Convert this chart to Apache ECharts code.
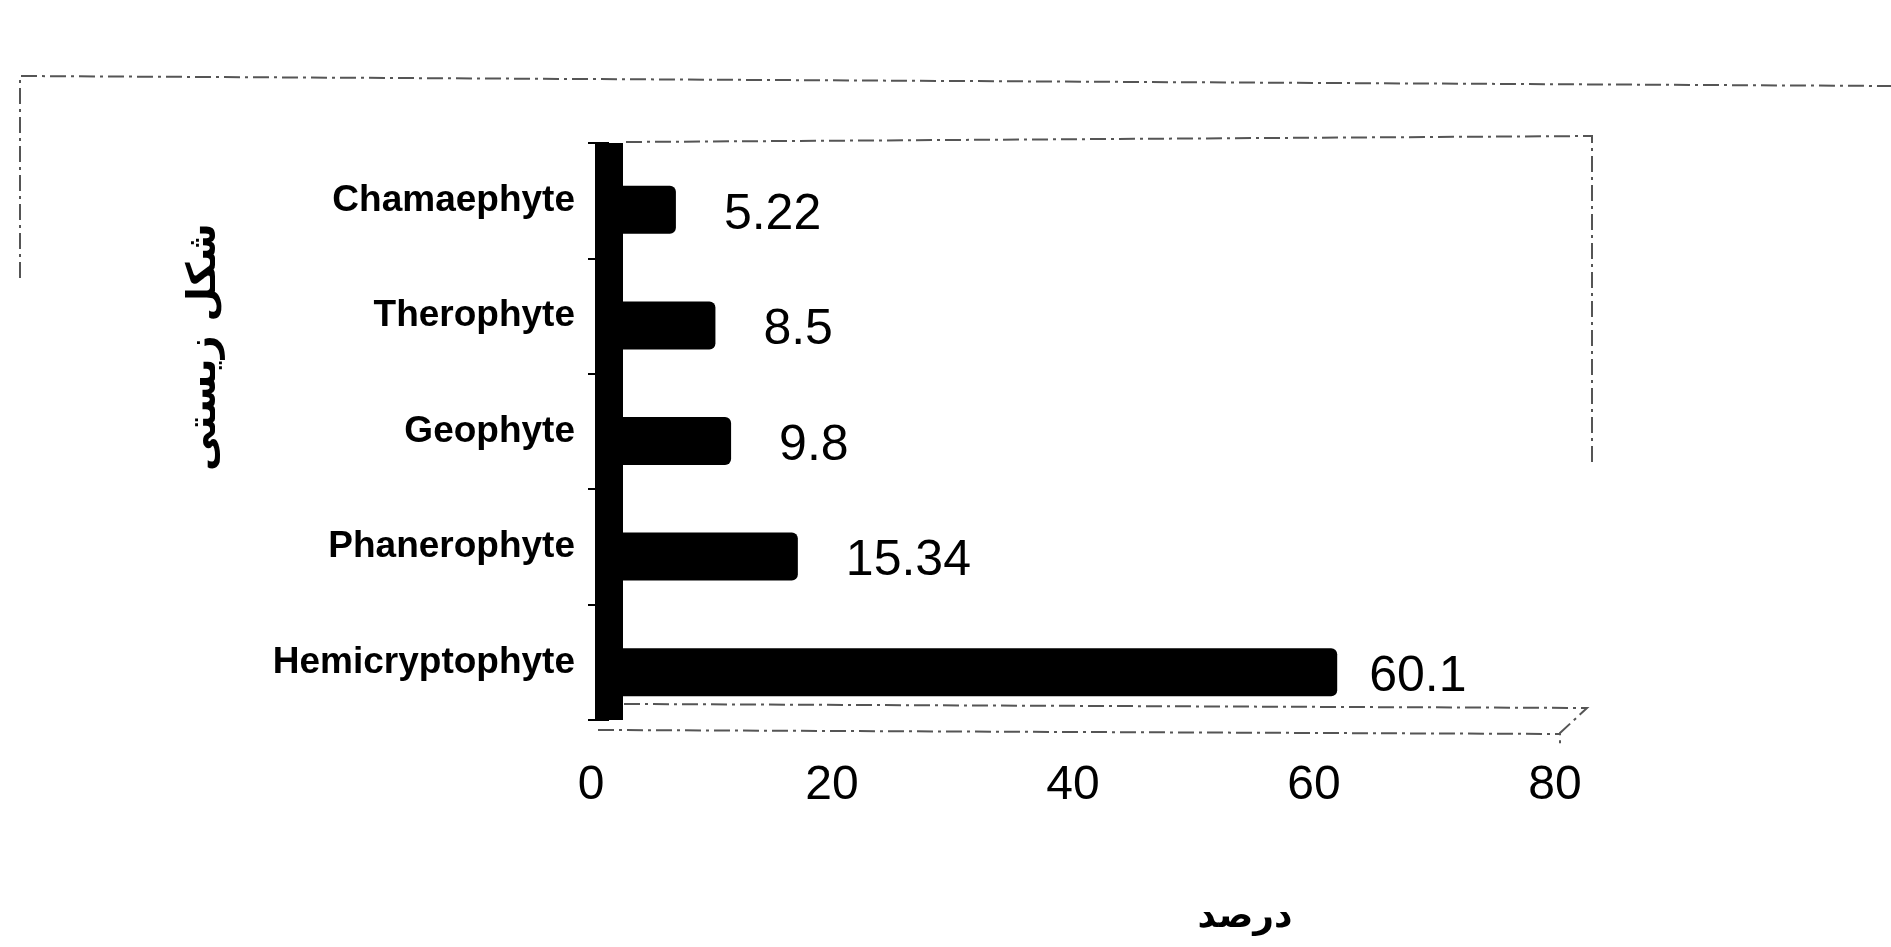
<!DOCTYPE html>
<html>
<head>
<meta charset="utf-8">
<title>life form</title>
<script src="https://cdn.jsdelivr.net/npm/echarts@6/dist/echarts.min.js"></script>
<style>
html,body{margin:0;padding:0;background:#fff}
#main{width:1891px;height:947px}
</style>
</head>
<body>
<div id="main"></div>
<script>
// categories top -> bottom
var lifeForms=["Chamaephyte","Therophyte","Geophyte","Phanerophyte","Hemicryptophyte"]
var percents=[5.22,8.5,9.8,15.34,60.1]
var xTicks=[0,20,40,60,80]
var xName="درصد"
var yName="شکل زیستی"

var mychart=echarts.init(document.getElementById('main'))

var barData=[]
for(var i=0;i<percents.length;i++){
    var d={value:percents[i]}
    if(percents[i]>50){
        d.label={distance:32}
    }
    barData.push(d)
}

// dashed frame lines of the scan
var dash={stroke:'#555',lineWidth:2,lineDash:[16,5,3,5],fill:null}
function frame(points){
    return {type:'polyline',silent:true,shape:{points:points},style:dash}
}

var option={
    backgroundColor:'#fff',
    animation:false,
    grid:[
        {left:591,top:143,width:964,height:577},   // front axes
        {left:613,top:152,width:964,height:578}    // bars (3d depth shift)
    ],
    xAxis:[
        {
            gridIndex:0,type:'value',
            min:xTicks[0],max:xTicks[xTicks.length-1],interval:20,
            axisLine:{show:false},axisTick:{show:false},splitLine:{show:false},
            axisLabel:{margin:42,color:'#000',fontSize:48,fontFamily:'Liberation Sans, Arial'}
        },
        {
            gridIndex:1,type:'value',
            min:xTicks[0],max:xTicks[xTicks.length-1],
            show:false
        }
    ],
    yAxis:[
        {
            gridIndex:0,type:'category',inverse:true,data:lifeForms,
            offset:-18,
            axisLine:{show:true,lineStyle:{color:'#000',width:28,cap:'butt'}},
            axisTick:{show:true,length:21,lineStyle:{color:'#000',width:2}},
            axisLabel:{margin:34,color:'#000',fontSize:37,fontWeight:'bold',fontFamily:'Liberation Sans, Arial'}
        },
        {
            gridIndex:1,type:'category',inverse:true,data:lifeForms,
            show:false
        }
    ],
    series:[{
        type:'bar',
        xAxisIndex:1,yAxisIndex:1,
        data:barData,
        barWidth:48,
        itemStyle:{color:'#000',borderRadius:[0,6,6,0]},
        label:{
            show:true,position:'right',distance:48,offset:[0,5],
            color:'#000',fontSize:50,fontFamily:'Liberation Sans, Arial'
        }
    }],
    graphic:[
        frame([[20,278],[20,76],[1891,86]]),
        frame([[626,142],[1592,136],[1592,465]]),
        frame([[624,704],[1587,708],[1560,733],[1560,746]]),
        frame([[598,730],[1560,734]]),
        {
            type:'text',silent:true,
            x:1245,y:918,
            style:{text:xName,fill:'#000',font:'bold 36px "DejaVu Sans"',align:'center',verticalAlign:'middle'}
        },
        {
            type:'text',silent:true,
            x:205,y:347,rotation:Math.PI/2,
            style:{text:yName,fill:'#000',font:'bold 40px "DejaVu Sans"',align:'center',verticalAlign:'middle'}
        }
    ]
}
mychart.setOption(option)
</script>
</body>
</html>
